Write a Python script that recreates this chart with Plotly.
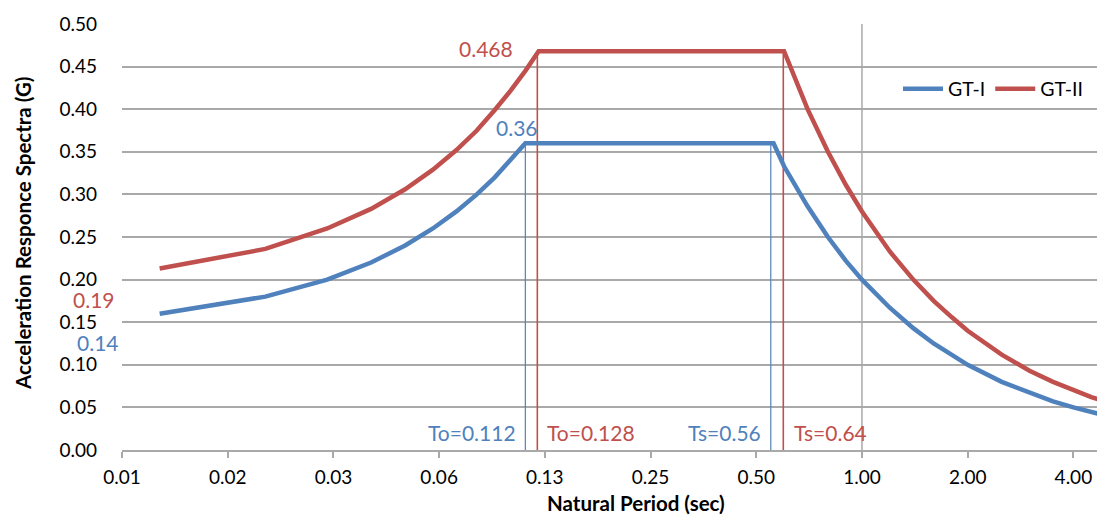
import math
import plotly.graph_objects as go

# ---------------- data ----------------
gt1_period = [0.01, 0.02, 0.03, 0.04, 0.05, 0.06, 0.07, 0.08, 0.09, 0.10, 0.11,
              0.56, 0.60, 0.70, 0.80, 0.90, 1.00, 1.20, 1.40, 1.60, 1.80, 2.00,
              2.50, 3.00, 3.50, 4.00, 4.50, 5.00]
gt1_accel = [0.160, 0.180, 0.200, 0.220, 0.240, 0.260, 0.280, 0.300, 0.320, 0.340, 0.360,
             0.360, 0.333, 0.286, 0.250, 0.222, 0.200, 0.167, 0.143, 0.125, 0.111, 0.100,
             0.080, 0.067, 0.057, 0.050, 0.044, 0.040]

gt2_period = [0.01, 0.02, 0.03, 0.04, 0.05, 0.06, 0.07, 0.08, 0.09, 0.10, 0.11, 0.12,
              0.60, 0.70, 0.80, 0.90, 1.00, 1.20, 1.40, 1.60, 1.80, 2.00,
              2.50, 3.00, 3.50, 4.00, 4.50, 5.00]
gt2_accel = [0.213, 0.236, 0.260, 0.283, 0.306, 0.329, 0.352, 0.375, 0.399, 0.422, 0.445, 0.468,
             0.468, 0.400, 0.350, 0.311, 0.280, 0.233, 0.200, 0.175, 0.156, 0.140,
             0.112, 0.093, 0.080, 0.070, 0.062, 0.056]

# corner-period marker lines (period, top value)
gt1_markers = [(0.110, 0.36), (0.550, 0.36)]
gt2_markers = [(0.119, 0.468), (0.597, 0.468)]

series_names = ["GT-I", "GT-II"]
tick_periods = [0.0078125, 0.015625, 0.03125, 0.0625, 0.125, 0.25, 0.5, 1.0, 2.0, 4.0]
tick_labels = ["0.01", "0.02", "0.03", "0.06", "0.13", "0.25", "0.50", "1.00", "2.00", "4.00"]
ref_period = 1.0
x_min, x_max = 0.0078125, 4.67
y_min, y_max = 0.0, 0.5

BLUE = "#4F81BD"
RED = "#C0504D"
GRID = "#a9a9a9"
FONT = "Lato, Carlito, Calibri, sans-serif"

W, H = 1097, 517
ML, MR, MT, MB = 122, 0, 24, 67
PW, PH = W - ML - MR, H - MT - MB


def px(xp):
    return (xp - ML) / PW


def py(yp):
    return (H - MB - yp) / PH


fig = go.Figure()

# vertical gridline at 1.00
fig.add_trace(go.Scatter(x=[ref_period, ref_period], y=[y_min, y_max], mode="lines",
                         line=dict(color=GRID, width=1.5), showlegend=False, hoverinfo="skip"))

for (t, v) in gt1_markers:
    fig.add_trace(go.Scatter(x=[t, t], y=[0, v], mode="lines",
                             line=dict(color=BLUE, width=1.2), showlegend=False, hoverinfo="skip"))
for (t, v) in gt2_markers:
    fig.add_trace(go.Scatter(x=[t, t], y=[0, v], mode="lines",
                             line=dict(color=RED, width=1.6), showlegend=False, hoverinfo="skip"))

fig.add_trace(go.Scatter(x=gt1_period, y=gt1_accel, mode="lines", name=series_names[0],
                         line=dict(color=BLUE, width=4.5)))
fig.add_trace(go.Scatter(x=gt2_period, y=gt2_accel, mode="lines", name=series_names[1],
                         line=dict(color=RED, width=4.5)))

annots = [
    ("0.468", 486, 49, RED),
    ("0.36", 517, 127, BLUE),
    ("0.19", 94, 299, RED),
    ("0.14", 98, 342, BLUE),
    ("To=0.112", 472, 432, BLUE),
    ("To=0.128", 591, 432, RED),
    ("Ts=0.56", 724, 432, BLUE),
    ("Ts=0.64", 830, 432, RED),
]
for text, cx, cy, col in annots:
    fig.add_annotation(text=text, x=px(cx), y=py(cy), xref="paper", yref="paper",
                       xanchor="center", yanchor="middle", showarrow=False,
                       font=dict(family=FONT, size=21, color=col))

# axis titles
fig.add_annotation(text="<b>Acceleration Responce Spectra (G)</b>", x=px(23), y=py(234),
                   xref="paper", yref="paper", textangle=-90, showarrow=False,
                   xanchor="center", yanchor="middle",
                   font=dict(family=FONT, size=20.5, color="#000000"))
fig.add_annotation(text="<b>Natural Period (sec)</b>", x=px(636), y=py(503),
                   xref="paper", yref="paper", showarrow=False,
                   xanchor="center", yanchor="middle",
                   font=dict(family=FONT, size=20.5, color="#000000"))

fig.update_layout(
    width=W, height=H,
    margin=dict(l=ML, r=MR, t=MT, b=MB, pad=0),
    paper_bgcolor="white", plot_bgcolor="white",
    font=dict(family=FONT, size=19, color="#000000"),
    showlegend=True,
    legend=dict(orientation="h", x=px(898), y=py(89), xanchor="left", yanchor="middle",
                bgcolor="rgba(0,0,0,0)", font=dict(family=FONT, size=19.5, color="#000000"),
                itemwidth=40, tracegroupgap=0),
)
fig.update_xaxes(type="log", range=[math.log10(x_min), math.log10(x_max)],
                 tickvals=tick_periods, ticktext=tick_labels,
                 ticks="outside", ticklen=6, tickwidth=1.5, tickcolor=GRID,
                 showline=True, linecolor=GRID, linewidth=1.5,
                 showgrid=False, zeroline=False, ticklabelstandoff=3,
                 tickfont=dict(family=FONT, size=19, color="#000000"))
fig.update_yaxes(range=[y_min, y_max], dtick=0.05, tickformat=".2f",
                 showgrid=True, gridcolor=GRID, gridwidth=1.5,
                 showline=False, zeroline=False, ticks="", ticklabelstandoff=24,
                 tickfont=dict(family=FONT, size=19, color="#000000"))

fig.write_html("out.html", config={"displayModeBar": False},
               post_script="document.body.style.margin='0';document.body.style.overflow='hidden';")
